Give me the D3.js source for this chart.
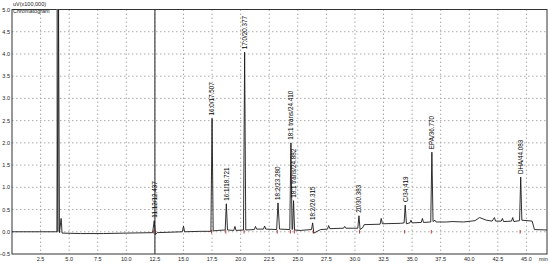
<!DOCTYPE html>
<html lang="en">
<head>
  <meta charset="utf-8">
  <title>Chromatogram</title>
  <script src="https://cdn.jsdelivr.net/npm/d3@7/dist/d3.min.js"></script>
  <style type="text/css">
    body{ margin:0; background:#fff; }
    text{ font-family: "Liberation Sans", Arial, sans-serif; fill:#222; }
  </style>
</head>
<body>
<script type="text/javascript">
    var width = 550;
    var height = 263;

    // axis ticks
    var xTicks = [2.5,5,7.5,10,12.5,15,17.5,20,22.5,25,27.5,30,32.5,35,37.5,40,42.5,45];
    var yTicks = [-0.5,0,0.5,1,1.5,2,2.5,3,3.5,4,4.5,5];

    // detector trace (min, uV x100,000)
    var trace = [
        [0,0],[3.95,0],[4.05,5.6],[4.15,-0.02],[4.3,0.3],[4.38,-0.03],
        [6,-0.04],[8,-0.04],[10,-0.03],[12.3,-0.02],[12.44,0.25],[12.55,-0.06],[12.7,-0.02],
        [14.9,0],[15,0.13],[15.1,0],[16.5,0.01],[17.4,0.01],[17.5,2.55],[17.6,0.02],[18,0.03],
        [18.65,0.04],[18.75,0.63],[18.85,0.04],[19.4,0.03],[19.5,0.12],[19.6,0.03],
        [20.25,0.04],[20.35,4.04],[20.45,0.04],[21.2,0.05],[21.3,0.12],[21.4,0.06],
        [22,0.06],[22.1,0.13],[22.2,0.06],[23.15,0.05],[23.27,0.65],[23.4,0.06],
        [24.3,0.05],[24.4,2.0],[24.5,0.05],[24.55,0.06],[24.63,0.7],[24.72,0.04],[25.2,0.03],
        [26.2,0.05],[26.3,0.2],[26.4,-0.03],[27,0.05],[27.6,0.06],[27.7,0.14],[27.8,0.07],
        [29,0.08],[29.1,0.12],[29.2,0.08],[30.25,0.08],[30.35,0.36],[30.45,0.05],[30.7,0.1],
        [30.8,0.16],[32.2,0.17],[32.3,0.3],[32.4,0.18],[34,0.19],[34.3,0.2],[34.4,0.6],[34.5,0.18],
        [34.8,0.2],[34.9,0.26],[35,0.2],[35.8,0.21],[35.9,0.3],[36,0.21],[36.63,0.22],[36.73,1.79],
        [36.83,0.23],[37,0.26],[37.1,0.22],[38,0.22],[38.5,0.23],[39.5,0.22],[40.5,0.25],
        [40.9,0.32],[41.5,0.26],[42,0.24],[42.2,0.32],[42.3,0.24],[42.8,0.24],[42.9,0.3],[43,0.23],
        [43.7,0.24],[43.8,0.32],[43.9,0.23],[44.4,0.25],[44.5,1.23],[44.6,0.26],[45.5,0.24],
        [45.7,0.05],[46.8,0.04]
    ];

    // labelled peaks
    var peakTimes  = [12.44, 17.5, 18.75, 20.35, 23.27, 24.4, 24.63, 26.3, 30.35, 34.4, 36.73, 44.5];
    var peakHeights = [0.25, 2.55, 0.63, 4.04, 0.65, 2.0, 0.7, 0.2, 0.36, 0.6, 1.79, 1.23];
    var peakLabels = ["11.12/12.437", "16:0/17.507", "16:1/18.721", "17:0/20.377", "18:2/23.280",
                      "18:1 trans/24.410", "18:1 trans/24.882", "18:2/26.315", "20/30.383",
                      "C/34.419", "EPA/36.770", "DHA/44.083"];

    // integration marks (red ticks at peak bases)
    var markTimes = [12.4, 17.45, 18.7, 20.3, 23.2, 24.35, 24.7, 26.35, 30.4, 34.35, 36.68, 44.45];

    var svg = d3.select("body").append("svg")
        .attr("width", width)
        .attr("height", height);

    var xScale = d3.scaleLinear().domain([0, 46.8]).range([12, 547]);
    var yScale = d3.scaleLinear().domain([-0.5, 5]).range([254, 9.5]);

    // dotted grid
    svg.selectAll(".vgrid").data(xTicks).enter().append("line")
        .attr("class","vgrid")
        .attr("x1", function(d){ return xScale(d); })
        .attr("x2", function(d){ return xScale(d); })
        .attr("y1", yScale(5)).attr("y2", yScale(-0.5))
        .attr("stroke","#aaa").attr("stroke-dasharray","1.5,2.5");
    svg.selectAll(".hgrid").data(yTicks.slice(1, -1)).enter().append("line")
        .attr("class","hgrid")
        .attr("x1", xScale(0)).attr("x2", xScale(46.8))
        .attr("y1", function(d){ return yScale(d); })
        .attr("y2", function(d){ return yScale(d); })
        .attr("stroke","#aaa").attr("stroke-dasharray","1.5,2.5");

    // frame
    svg.append("rect")
        .attr("x", xScale(0)).attr("y", yScale(5))
        .attr("width", xScale(46.8) - xScale(0))
        .attr("height", yScale(-0.5) - yScale(5))
        .attr("fill","none").attr("stroke","#333").attr("stroke-width",1);

    // tick labels
    svg.selectAll(".ylab").data(yTicks).enter().append("text")
        .attr("class","ylab")
        .attr("x", 10)
        .attr("y", function(d){ return yScale(d) + 2; })
        .attr("text-anchor","end")
        .attr("font-size","5.5px")
        .text(function(d){ return d3.format(".1f")(d); });
    svg.selectAll(".xlab").data(xTicks).enter().append("text")
        .attr("class","xlab")
        .attr("x", function(d){ return xScale(d); })
        .attr("y", 261)
        .attr("text-anchor","middle")
        .attr("font-size","5.5px")
        .text(function(d){ return d3.format(".1f")(d); });
    svg.append("text").attr("x", 539).attr("y", 261).attr("font-size","5.5px").text("min");

    // header
    svg.append("text").attr("x", 13).attr("y", 6).attr("font-size","5.5px").text("uV(x100,000)");
    svg.append("text").attr("x", 13).attr("y", 13).attr("font-size","5.5px").text("Chromatogram");

    // clip to plot area
    svg.append("clipPath").attr("id","plotclip").append("rect")
        .attr("x", xScale(0)).attr("y", yScale(5))
        .attr("width", xScale(46.8) - xScale(0))
        .attr("height", yScale(-0.5) - yScale(5));

    var plot = svg.append("g").attr("clip-path","url(#plotclip)");

    // solvent front, drawn grey and wide
    plot.append("line")
        .attr("x1", xScale(4.0)).attr("x2", xScale(4.0))
        .attr("y1", yScale(5.2)).attr("y2", yScale(0))
        .attr("stroke","#999").attr("stroke-width",3);

    // marker line at 12.5 min
    plot.append("line")
        .attr("x1", xScale(12.5)).attr("x2", xScale(12.5))
        .attr("y1", yScale(5)).attr("y2", yScale(-0.5))
        .attr("stroke","#444").attr("stroke-width",1.2);

    var line = d3.line()
        .x(function(d){ return xScale(d[0]); })
        .y(function(d){ return yScale(d[1]); });

    plot.append("path")
        .datum(trace)
        .attr("d", line)
        .attr("fill","none")
        .attr("stroke","#1a1a1a")
        .attr("stroke-width",0.9);

    plot.selectAll(".mark").data(markTimes).enter().append("line")
        .attr("class","mark")
        .attr("x1", function(d){ return xScale(d); })
        .attr("x2", function(d){ return xScale(d); })
        .attr("y1", yScale(0.04)).attr("y2", yScale(-0.04))
        .attr("stroke","#a01010").attr("stroke-width",0.8);

    // rotated peak labels
    svg.selectAll(".plab").data(peakTimes).enter().append("text")
        .attr("class","plab")
        .attr("transform", function(d, i){
            return "translate(" + (xScale(d) + 2.3) + "," + (yScale(peakHeights[i]) - 3) + ") rotate(-90)";
        })
        .attr("font-size","6.3px")
        .style("fill","#000")
        .text(function(d, i){ return peakLabels[i]; });
</script>
</body>
</html>
